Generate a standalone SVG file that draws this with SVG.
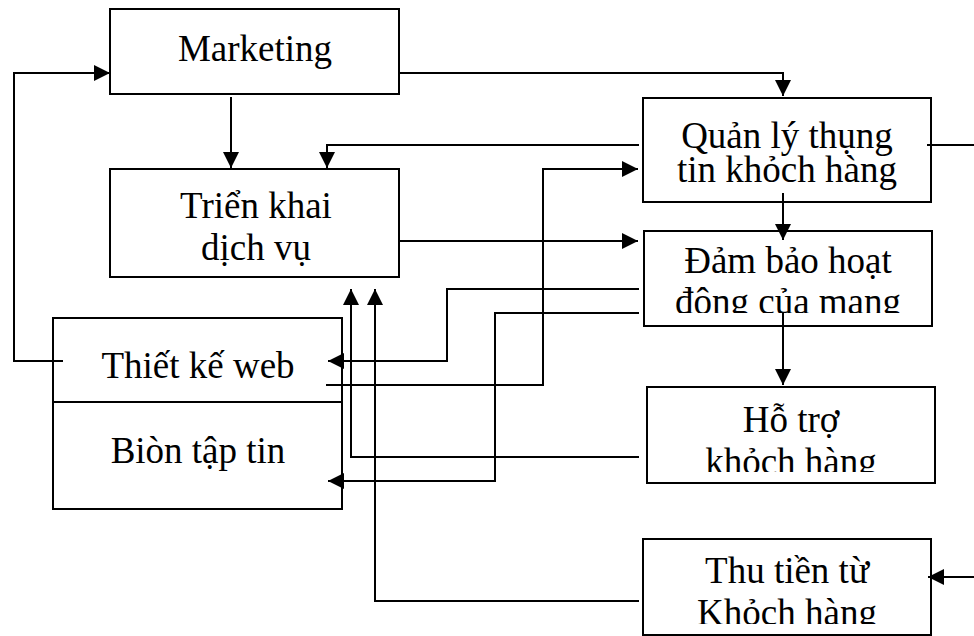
<svg xmlns="http://www.w3.org/2000/svg" width="974" height="636" viewBox="0 0 974 636">
  <style>
    .box { fill: #fff; stroke: #000; stroke-width: 2; }
    .lbl { font-family: "Liberation Serif", "Times New Roman", serif; font-size: 37px; fill: #000; text-anchor: middle; }
    .con { fill: none; stroke: #000; stroke-width: 2; }
  </style>
  <defs>
    <marker id="ah" viewBox="0 0 16 16" refX="16" refY="8" markerWidth="16" markerHeight="16" markerUnits="userSpaceOnUse" orient="auto">
      <path d="M0,0 L16,8 L0,16 Z" fill="#000"/>
    </marker>
    <clipPath id="clipDam"><rect x="640" y="225" width="300" height="88"/></clipPath>
    <clipPath id="clipHo"><rect x="640" y="380" width="300" height="92"/></clipPath>
    <clipPath id="clipThu"><rect x="640" y="535" width="300" height="89"/></clipPath>
  </defs>
  <rect width="974" height="636" fill="#fff"/>

  <g id="marketing">
    <rect class="box" x="110" y="9" width="289" height="85"/>
    <text class="lbl" x="255" y="61">Marketing</text>
  </g>
  <g id="trien-khai">
    <rect class="box" x="110" y="169" width="289" height="108"/>
    <text class="lbl" x="256" y="218">Triển khai<tspan x="256" y="260">dịch vụ</tspan></text>
  </g>
  <g id="quan-ly">
    <rect class="box" x="643" y="98" width="288" height="104"/>
    <text class="lbl" x="787" y="148">Quản lý thụng<tspan x="787" y="182">tin khỏch hàng</tspan></text>
  </g>
  <g id="dam-bao">
    <rect class="box" x="644" y="231" width="288" height="95"/>
    <g clip-path="url(#clipDam)">
      <text class="lbl" x="788" y="273">Đảm bảo hoạt<tspan x="788" y="314">đông của mang</tspan></text>
    </g>
  </g>
  <g id="ho-tro">
    <rect class="box" x="647" y="387" width="288" height="96"/>
    <g clip-path="url(#clipHo)">
      <text class="lbl" x="791" y="432">Hỗ trợ<tspan x="791" y="474">khỏch hàng</tspan></text>
    </g>
  </g>
  <g id="thu-tien">
    <rect class="box" x="643" y="539" width="288" height="96"/>
    <g clip-path="url(#clipThu)">
      <text class="lbl" x="787" y="583">Thu tiền từ<tspan x="787" y="625">Khỏch hàng</tspan></text>
    </g>
  </g>
  <g id="thiet-ke-bien-tap">
    <rect class="box" x="53" y="318" width="289" height="191"/>
    <line x1="53" y1="402" x2="342" y2="402" stroke="#000" stroke-width="2"/>
    <text class="lbl" x="198" y="378">Thiết kế web</text>
    <text class="lbl" x="198" y="463">Biòn tập tin</text>
  </g>

  <g id="connectors">
    <path class="con" d="M63,361 H14 V73 H110" marker-end="url(#ah)"/>
    <path class="con" d="M399,73 H783 V96" marker-end="url(#ah)"/>
    <path class="con" d="M231,97 V168" marker-end="url(#ah)"/>
    <path class="con" d="M639,145 H327 V168" marker-end="url(#ah)"/>
    <path class="con" d="M927,145 H974"/>
    <path class="con" d="M399,241 H638" marker-end="url(#ah)"/>
    <path class="con" d="M326,385 H543 V169 H638" marker-end="url(#ah)"/>
    <path class="con" d="M783,193 V240" marker-end="url(#ah)"/>
    <path class="con" d="M639,289 H447 V361 H328" marker-end="url(#ah)"/>
    <path class="con" d="M639,313 H495 V481 H328" marker-end="url(#ah)"/>
    <path class="con" d="M783,313 V385" marker-end="url(#ah)"/>
    <path class="con" d="M639,457 H351 V289" marker-end="url(#ah)"/>
    <path class="con" d="M639,601 H375 V289" marker-end="url(#ah)"/>
    <path class="con" d="M974,577 H928" marker-end="url(#ah)"/>
  </g>
</svg>
